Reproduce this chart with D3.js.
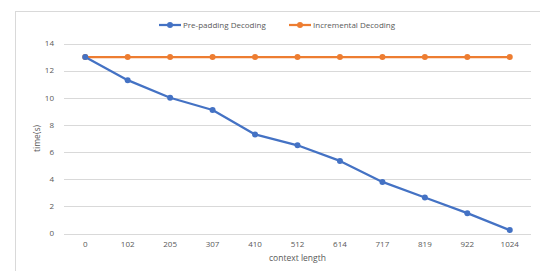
<!doctype html>
<html>
<head>
<script src="https://cdnjs.cloudflare.com/ajax/libs/d3/7.8.5/d3.min.js"></script>
<style>
  body { margin: 0; background: #fff; }
  svg text { font-family: "Open Sans", "DejaVu Sans", sans-serif; fill: #595959; }
</style>
</head>
<body>
<svg id="chart" width="540" height="271"></svg>
<script>
// chart values
var contextLength = ["0", "102", "205", "307", "410", "512", "614", "717", "819", "922", "1024"];
var prePadding = [13, 11.3, 10, 9.1, 7.3, 6.5, 5.35, 3.8, 2.65, 1.5, 0.25];
var incremental = [13, 13, 13, 13, 13, 13, 13, 13, 13, 13, 13];
var yTicks = [0, 2, 4, 6, 8, 10, 12, 14];
var seriesNames = ["Pre-padding Decoding", "Incremental Decoding"];
var colors = ["#4472C4", "#ED7D31"];

var svg = d3.select("#chart");
var plotLeft = 64, plotRight = 531, plotTop = 43.5, plotBottom = 233.5;

// outer frame
svg.append("rect")
    .attr("x", 15.5).attr("y", 11.5)
    .attr("width", 540).attr("height", 280)
    .attr("fill", "none").attr("stroke", "#d9d9d9");

var x = d3.scaleBand().domain(contextLength).range([plotLeft, plotRight]).padding(0);
var y = d3.scaleLinear().domain([0, 14]).range([plotBottom, plotTop]);

// gridlines
svg.append("g").selectAll("line")
    .data(yTicks).enter().append("line")
    .attr("x1", plotLeft).attr("x2", plotRight)
    .attr("y1", function(d) { return Math.round(y(d)) + 0.5; })
    .attr("y2", function(d) { return Math.round(y(d)) + 0.5; })
    .attr("stroke", "#d9d9d9").attr("stroke-width", 1);

// y tick labels
svg.append("g").selectAll("text")
    .data(yTicks).enter().append("text")
    .attr("x", 54).attr("y", function(d) { return y(d); })
    .attr("dy", "0.35em").attr("text-anchor", "end")
    .attr("font-size", 8)
    .text(function(d) { return d; });

// x tick labels
svg.append("g").selectAll("text")
    .data(contextLength).enter().append("text")
    .attr("x", function(d) { return x(d) + x.bandwidth() / 2; })
    .attr("y", 247).attr("text-anchor", "middle")
    .attr("font-size", 8)
    .text(function(d) { return d; });

// axis titles
svg.append("text")
    .attr("x", (plotLeft + plotRight) / 2).attr("y", 261)
    .attr("text-anchor", "middle").attr("font-size", 8.5)
    .text("context  length");
svg.append("text")
    .attr("transform", "translate(40," + ((plotTop + plotBottom) / 2) + ") rotate(-90)")
    .attr("text-anchor", "middle").attr("font-size", 8.5)
    .text("time(s)");

var line = d3.line()
    .x(function(d, i) { return x(contextLength[i]) + x.bandwidth() / 2; })
    .y(function(d) { return y(d); });

[incremental, prePadding].forEach(function(vals) {
    var c = vals === prePadding ? colors[0] : colors[1];
    var g = svg.append("g");
    g.append("path").datum(vals)
        .attr("d", line).attr("fill", "none")
        .attr("stroke", c).attr("stroke-width", 2.25)
        .attr("stroke-linejoin", "round");
    g.selectAll("circle").data(vals).enter().append("circle")
        .attr("cx", function(d, i) { return x(contextLength[i]) + x.bandwidth() / 2; })
        .attr("cy", function(d) { return y(d); })
        .attr("r", 3).attr("fill", c);
});

// legend
var legendX = [159, 289];
seriesNames.forEach(function(name, i) {
    var g = svg.append("g").attr("transform", "translate(" + legendX[i] + ",25)");
    g.append("line").attr("x1", 0).attr("x2", 22)
        .attr("stroke", colors[i]).attr("stroke-width", 2.25);
    g.append("circle").attr("cx", 11).attr("r", 3).attr("fill", colors[i]);
    g.append("text").attr("x", 24).attr("dy", "0.35em")
        .attr("font-size", 8).text(name);
});
</script>
</body>
</html>
